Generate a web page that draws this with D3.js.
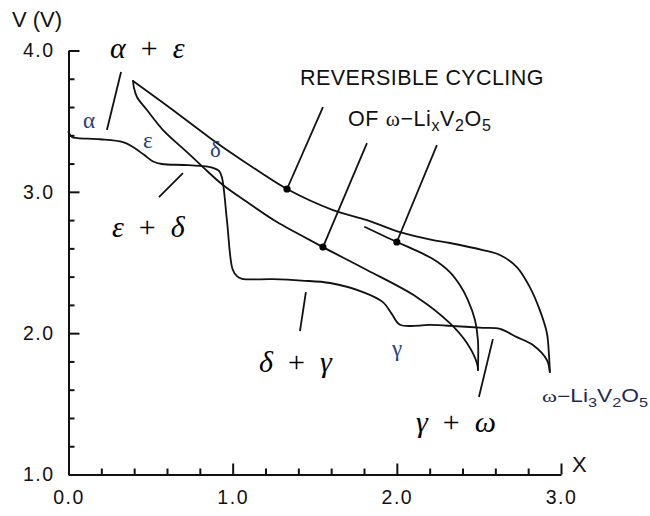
<!DOCTYPE html>
<html>
<head>
<meta charset="utf-8">
<script src="https://cdn.jsdelivr.net/npm/d3@7"></script>
<style>
  body { margin: 0; background: #fff; }
  svg { display: block; }
</style>
</head>
<body>
<script>
// Li insertion into V2O5: cell voltage V against lithium content x.
// Each curve is a list of [x, V] pairs.
const firstDischarge = [
  [0.000, 3.425], [0.021, 3.388], [0.055, 3.380], [0.192, 3.372], [0.332, 3.352],
  [0.393, 3.317], [0.460, 3.262], [0.515, 3.215], [0.569, 3.197], [0.700, 3.190],
  [0.801, 3.183], [0.880, 3.170], [0.917, 3.148], [0.935, 3.100], [0.965, 2.800],
  [1.000, 2.450], [1.026, 2.404], [1.057, 2.385], [1.245, 2.382], [1.420, 2.372],
  [1.593, 2.355], [1.794, 2.291], [1.915, 2.220], [1.970, 2.135], [2.019, 2.060],
  [2.202, 2.058], [2.323, 2.052], [2.524, 2.038], [2.628, 2.030], [2.731, 1.972],
  [2.829, 1.916], [2.914, 1.810], [2.932, 1.725]
];
const firstCharge = [
  [2.932, 1.725], [2.926, 1.859], [2.914, 2.001], [2.871, 2.163], [2.810, 2.326],
  [2.731, 2.468], [2.628, 2.553], [2.524, 2.588], [2.323, 2.638], [2.220, 2.659],
  [2.019, 2.715], [1.818, 2.800], [1.611, 2.871], [1.331, 3.020], [1.166, 3.140],
  [0.965, 3.296], [0.862, 3.381], [0.619, 3.593], [0.393, 3.784]
];
const secondDischarge = [
  [0.393, 3.784], [0.399, 3.735], [0.417, 3.671], [0.478, 3.579], [0.576, 3.437],
  [0.722, 3.281], [0.819, 3.175], [0.941, 3.048], [1.105, 2.914], [1.270, 2.786],
  [1.379, 2.716], [1.550, 2.609], [1.818, 2.447], [2.122, 2.255], [2.323, 2.071],
  [2.427, 1.930], [2.488, 1.788], [2.494, 1.739]
];
const secondCharge = [
  [2.494, 1.739], [2.494, 1.951], [2.476, 2.093], [2.433, 2.234], [2.384, 2.340],
  [2.323, 2.432], [2.220, 2.524], [2.098, 2.595], [2.000, 2.645], [1.806, 2.751]
];
// points picked out on the reversible cycling curves
const cyclingPoints = [[1.331, 3.020], [1.550, 2.609], [2.000, 2.645]];

// axes
const xMajorTicks = [0, 1, 2, 3];
const xMinorTicks = [0.2, 0.4, 0.6, 0.8, 1.2, 1.4, 1.6, 1.8, 2.2, 2.4, 2.6, 2.8];
const yMajorTicks = [1, 2, 3, 4];
const yMinorTicks = [1.2, 1.4, 1.6, 1.8, 2.2, 2.4, 2.6, 2.8, 3.2, 3.4, 3.6, 3.8];
const xAxisTitle = "X";
const yAxisTitle = "V (V)";

// phase-region leaders: from [x, V] to [x, V]
const phaseLeaders = [
  [[0.320, 3.848], [0.234, 3.437]],
  [[0.697, 3.133], [0.551, 2.963]],
  [[1.446, 2.291], [1.410, 2.015]],
  [[2.585, 1.958], [2.500, 1.548]]
];
// leaders from the cycling caption to the marked points
const captionLeaderStarts = [[1.550, 3.600], [1.818, 3.345], [2.244, 3.331]];

const W = 650, H = 516;
const sans = '"Liberation Sans", Arial, Helvetica, sans-serif';
const serif = '"Liberation Serif", "Times New Roman", serif';

const svg = d3.select("body").append("svg")
  .attr("width", W).attr("height", H)
  .attr("viewBox", `0 0 ${W} ${H}`);

const x = d3.scaleLinear().domain([0, 3]).range([68.5, 561]);
const y = d3.scaleLinear().domain([1, 4]).range([474.5, 50.5]);

// ---- axes ----
const fmt = d3.format(".1f");
svg.append("g").attr("transform", `translate(${x(0)},0)`)
  .call(d3.axisLeft(y).tickValues(yMajorTicks).tickSizeInner(-11).tickSizeOuter(0)
    .tickPadding(14).tickFormat(fmt));
svg.append("g").attr("transform", `translate(${x(0)},0)`)
  .call(d3.axisLeft(y).tickValues(yMinorTicks).tickSizeInner(-6).tickSizeOuter(0)
    .tickFormat(""))
  .call(g => g.select(".domain").remove());

svg.append("g").attr("transform", `translate(0,${y(1)})`)
  .call(d3.axisBottom(x).tickValues(xMajorTicks).tickSizeInner(-11).tickSizeOuter(0)
    .tickPadding(16).tickFormat(fmt));
svg.append("g").attr("transform", `translate(0,${y(1)})`)
  .call(d3.axisBottom(x).tickValues(xMinorTicks).tickSizeInner(-6).tickSizeOuter(0)
    .tickFormat(""))
  .call(g => g.select(".domain").remove());

svg.selectAll(".domain, .tick line")
  .attr("stroke", "#111").attr("stroke-width", 2);
svg.selectAll(".tick text")
  .attr("font-family", sans).attr("font-size", 19.5)
  .attr("letter-spacing", "1.5px").attr("fill", "#111");

svg.append("text").attr("x", 12).attr("y", 27)
  .attr("font-family", sans).attr("font-size", 22).attr("fill", "#111")
  .text(yAxisTitle);
svg.append("text").attr("x", 572).attr("y", 472)
  .attr("font-family", sans).attr("font-size", 22).attr("fill", "#111")
  .text(xAxisTitle);

// ---- curves ----
const line = d3.line()
  .x(d => x(d[0])).y(d => y(d[1]))
  .curve(d3.curveCatmullRom.alpha(0.5));

svg.append("g")
  .attr("fill", "none").attr("stroke", "#111").attr("stroke-width", 1.8)
  .attr("stroke-linejoin", "round").attr("stroke-linecap", "round")
  .selectAll("path")
  .data([firstDischarge, firstCharge, secondDischarge, secondCharge])
  .join("path")
  .attr("d", line);

// ---- leaders ----
const leaders = phaseLeaders.concat(
  captionLeaderStarts.map((s, i) => [s, cyclingPoints[i]])
);
svg.append("g").attr("stroke", "#111").attr("stroke-width", 1.8)
  .selectAll("line").data(leaders).join("line")
  .attr("x1", d => x(d[0][0])).attr("y1", d => y(d[0][1]))
  .attr("x2", d => x(d[1][0])).attr("y2", d => y(d[1][1]));

svg.append("g").selectAll("circle").data(cyclingPoints).join("circle")
  .attr("cx", d => x(d[0])).attr("cy", d => y(d[1])).attr("r", 3.6)
  .attr("fill", "#000");

// ---- phase labels ----
const smallPhase = [
  { t: "α", px: 83, py: 128 },
  { t: "ε", px: 143, py: 148 },
  { t: "δ", px: 210, py: 157 },
  { t: "γ", px: 392, py: 356 }
];
svg.append("g").selectAll("text").data(smallPhase).join("text")
  .attr("x", d => d.px).attr("y", d => d.py)
  .attr("font-family", serif).attr("font-size", 23).attr("fill", "#26427c")
  .text(d => d.t);

const twoPhase = [
  { a: "α", b: "ε", px: 110, py: 58 },
  { a: "ε", b: "δ", px: 112, py: 237 },
  { a: "δ", b: "γ", px: 259, py: 372 },
  { a: "γ", b: "ω", px: 416, py: 432 }
];
const tp = svg.append("g").selectAll("text").data(twoPhase).join("text")
  .attr("x", d => d.px).attr("y", d => d.py)
  .attr("font-family", serif).attr("font-size", 30).attr("fill", "#000");
tp.append("tspan").attr("font-style", "italic").text(d => d.a);
tp.append("tspan").text("\u2002+\u2002");
tp.append("tspan").attr("font-style", "italic").text(d => d.b);

// ---- caption ----
svg.append("text").attr("x", 300).attr("y", 85)
  .attr("font-family", sans).attr("font-size", 21.5).attr("letter-spacing", "0.4px")
  .attr("fill", "#111")
  .text("REVERSIBLE CYCLING");

function formula(sel, parts, subSize) {
  parts.forEach(p => {
    const ts = sel.append("tspan").text(p.t);
    if (p.serif) ts.attr("font-family", serif);
    if (p.sub) ts.attr("font-size", subSize).attr("dy", 5);
    if (p.up) ts.attr("dy", -5);
  });
}
const cap2 = svg.append("text").attr("x", 348).attr("y", 126)
  .attr("font-family", sans).attr("font-size", 21.5).attr("letter-spacing", "0.6px")
  .attr("fill", "#111");
formula(cap2, [
  { t: "OF " }, { t: "ω", serif: true }, { t: "−Li" },
  { t: "x", sub: true }, { t: "V", up: true }, { t: "2", sub: true },
  { t: "O", up: true }, { t: "5", sub: true }
], 16);

const endLabel = svg.append("text")
  .attr("transform", "translate(542,402) scale(1.3,1)")
  .attr("font-family", sans).attr("font-size", 17.5).attr("fill", "#1e2a4e");
formula(endLabel, [
  { t: "ω", serif: true }, { t: "−Li" },
  { t: "3", sub: true }, { t: "V", up: true }, { t: "2", sub: true },
  { t: "O", up: true }, { t: "5", sub: true }
], 12.5);
</script>
</body>
</html>
